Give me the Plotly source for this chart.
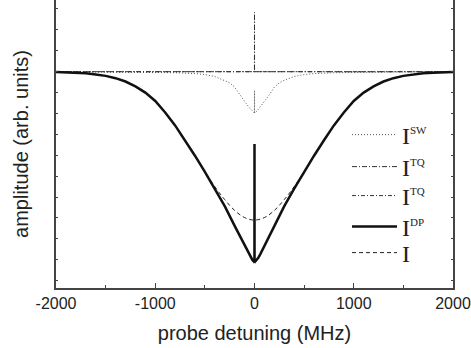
import plotly.graph_objects as go

# ---- data ----
# probe detuning (MHz), amplitude in arb. units (baseline = 0)
x_wide = [-2000, -1900, -1800, -1700, -1600, -1500, -1400, -1300, -1200, -1100,
          -1000, -900, -800, -700, -600, -500, -400, -300, -200, -100, 0,
          100, 200, 300, 400, 500, 600, 700, 800, 900, 1000,
          1100, 1200, 1300, 1400, 1500, 1600, 1700, 1800, 1900, 2000]
i_total = [-0.02, -0.03, -0.05, -0.08, -0.13, -0.20, -0.31, -0.47, -0.70, -1.00,
           -1.40, -1.95, -2.57, -3.28, -4.02, -4.79, -5.50, -6.12, -6.64, -6.98, -7.10,
           -6.98, -6.64, -6.12, -5.50, -4.79, -4.02, -3.28, -2.57, -1.95, -1.40,
           -1.00, -0.70, -0.47, -0.31, -0.20, -0.13, -0.08, -0.05, -0.03, -0.02]

x_dp = [-2000, -1900, -1800, -1700, -1600, -1500, -1400, -1300, -1200, -1100,
        -1000, -900, -800, -700, -600, -500, -400, -300, -200, -146, -100, -60,
        -40, -20, -10, -0.5, 0, 0.5, 10, 20, 40, 60, 100, 146, 200, 300, 400, 500,
        600, 700, 800, 900, 1000, 1100, 1200, 1300, 1400, 1500, 1600, 1700, 1800,
        1900, 2000]
i_dp = [-0.02, -0.03, -0.05, -0.08, -0.13, -0.20, -0.31, -0.47, -0.70, -1.00,
        -1.40, -1.95, -2.57, -3.28, -4.02, -4.79, -5.60, -6.43, -7.38, -7.89, -8.34, -8.72,
        -8.89, -9.02, -9.07, -9.09, -3.46, -9.09, -9.07, -9.02, -8.89, -8.72, -8.34, -7.89,
        -7.38, -6.43, -5.60, -4.79,
        -4.02, -3.28, -2.57, -1.95, -1.40, -1.00, -0.70, -0.47, -0.31, -0.20, -0.13,
        -0.08, -0.05, -0.03, -0.02]

x_sw = [-2000, -1500, -1000, -800, -600, -500, -400, -350, -300, -250, -200, -150,
        -100, -50, -25, -0.5, 0, 0.5, 25, 50, 100, 150, 200, 250, 300, 350, 400,
        500, 600, 800, 1000, 1500, 2000]
i_sw = [0.0, -0.01, -0.03, -0.05, -0.09, -0.14, -0.23, -0.32, -0.41, -0.53, -0.74, -1.10,
        -1.42, -1.73, -1.88, -1.98, -0.91, -1.98, -1.88, -1.73, -1.42, -1.10, -0.74, -0.53,
        -0.41, -0.32, -0.23, -0.14, -0.09, -0.05, -0.03, -0.01, 0.0]

x_tq = [-2000, -0.5, 0, 0.5, 2000]
i_tq1 = [0.0, 0.0, 2.84, 0.0, 0.0]
i_tq2 = [0.0, 0.0, 0.0, 0.0, 0.0]

x_tickvals = [-2000, -1000, 0, 1000, 2000]
x_ticktext = ["-2000", "-1000", "0", "1000", "2000"]

names = ["I<sup><span style='font-size:11px'>SW</span></sup>",
         "I<sup><span style='font-size:11px'>TQ</span></sup>",
         "I<sup><span style='font-size:11px'>TQ</span></sup>",
         "I<sup><span style='font-size:11px'>DP</span></sup>",
         "I"]

fig = go.Figure()
fig.add_trace(go.Scatter(x=x_sw, y=i_sw, mode="lines", name=names[0], legend="legend",
                         line=dict(color="#555555", width=1, dash="1px,2px")))
fig.add_trace(go.Scatter(x=x_tq, y=i_tq1, mode="lines", name=names[1], legend="legend2",
                         line=dict(color="#333333", width=1, dash="5px,2px,1px,2px")))
fig.add_trace(go.Scatter(x=x_tq, y=i_tq2, mode="lines", name=names[2], legend="legend3",
                         line=dict(color="#333333", width=1, dash="4px,2px,1px,2px")))
fig.add_trace(go.Scatter(x=x_wide, y=i_total, mode="lines", name=names[4],
                         showlegend=False,
                         line=dict(color="#222222", width=1, dash="4px,3px", shape="spline")))
fig.add_trace(go.Scatter(x=x_dp, y=i_dp, mode="lines", name=names[3], legend="legend4",
                         line=dict(color="#111111", width=2.5)))
fig.add_trace(go.Scatter(x=[None], y=[None], mode="lines", name=names[4], legend="legend5",
                         line=dict(color="#222222", width=1, dash="4px,3px")))

leg_font = dict(family="Liberation Serif, Times New Roman, serif", size=24, color="#222222")
leg_y_px = [135, 167, 196, 227, 253]   # legend rows, px from top of plot area
plot_h = 288.0


def leg(ypx):
    return dict(x=0.733, y=1 - ypx / plot_h, xanchor="left", yanchor="middle",
                bgcolor="rgba(0,0,0,0)", itemwidth=45, font=leg_font)


fig.update_layout(
    width=471, height=348,
    margin=dict(l=56, r=18, t=0, b=60, autoexpand=False),
    paper_bgcolor="white", plot_bgcolor="white",
    font=dict(family="Liberation Sans, Arial, sans-serif", color="#222222"),
    legend=leg(leg_y_px[0]),
    legend2=leg(leg_y_px[1]),
    legend3=leg(leg_y_px[2]),
    legend4=leg(leg_y_px[3]),
    legend5=leg(leg_y_px[4]),
    showlegend=True,
)
fig.update_xaxes(range=[-2000, 2000], showgrid=False, zeroline=False, automargin=False,
                 showline=True, linecolor="#444444", linewidth=1.5,
                 ticks="inside", ticklen=5, tickcolor="#444444",
                 tickmode="array", tickvals=x_tickvals, ticktext=x_ticktext,
                 tickfont=dict(size=16, color="#222222"),
                 minor=dict(ticks="inside", ticklen=3, dtick=500, tickcolor="#444444"),
                 title=dict(text="probe detuning (MHz)", font=dict(size=20, color="#222222"),
                            standoff=15))
fig.update_yaxes(range=[-10.35, 3.43], showgrid=False, zeroline=False, automargin=False,
                 showline=True, linecolor="#444444", linewidth=1.5, mirror="ticks",
                 ticks="inside", ticklen=2, tickcolor="#444444", dtick=1,
                 showticklabels=False,
                 title=dict(text="amplitude (arb. units)", font=dict(size=20, color="#222222"),
                            standoff=20))

fig.write_html("out.html", config={"displayModeBar": False},
               post_script="document.body.style.margin='0';")
